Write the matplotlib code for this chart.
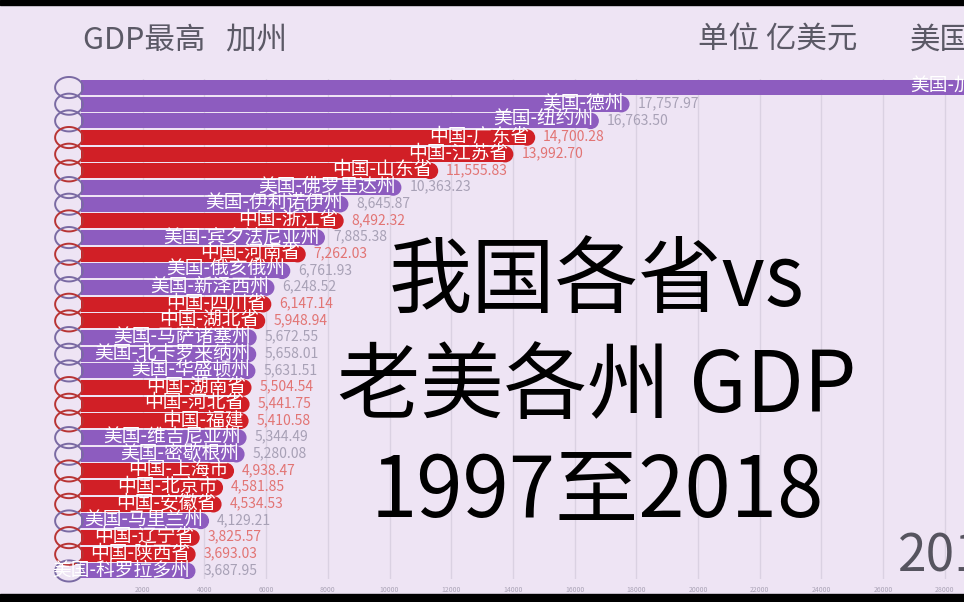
import numpy as np
import matplotlib.pyplot as plt
from matplotlib.patches import Ellipse, Rectangle
from matplotlib.path import Path

plt.rcParams['font.family'] = ['Noto Sans CJK SC', 'DejaVu Sans']

# 1997-2018 动态排行的最后一帧 (单位: 亿美元)
names = ['美国-加州', '美国-德州', '美国-纽约州', '中国-广东省', '中国-江苏省',
         '中国-山东省', '美国-佛罗里达州', '美国-伊利诺伊州', '中国-浙江省',
         '美国-宾夕法尼亚州', '中国-河南省', '美国-俄亥俄州', '美国-新泽西州',
         '中国-四川省', '中国-湖北省', '美国-马萨诸塞州', '美国-北卡罗来纳州',
         '美国-华盛顿州', '中国-湖南省', '中国-河北省', '中国-福建',
         '美国-维吉尼亚州', '美国-密歇根州', '中国-上海市', '中国-北京市',
         '中国-安徽省', '美国-马里兰州', '中国-辽宁省', '中国-陕西省',
         '美国-科罗拉多州']
values = [29687.00, 17757.97, 16763.50, 14700.28, 13992.70,
          11555.83, 10363.23, 8645.87, 8492.32,
          7885.38, 7262.03, 6761.93, 6248.52,
          6147.14, 5948.94, 5672.55, 5658.01,
          5631.51, 5504.54, 5441.75, 5410.58,
          5344.49, 5280.08, 4938.47, 4581.85,
          4534.53, 4129.21, 3825.57, 3693.03,
          3687.95]
ticks = np.arange(2000, 28001, 2000)

bg = '#eee4f4'
us_bar, cn_bar = '#8d5cbf', '#d11f26'
us_ring, cn_ring = '#7a6aa3', '#b83434'
us_val, cn_val = '#a8a1b6', '#e27474'

fig = plt.figure(figsize=(9.64, 6.02), dpi=100, facecolor=bg)
top_px, bot_px = 79.2, 579.3
ax = fig.add_axes([81 / 964, 1 - bot_px / 602, 1 - 81 / 964, (bot_px - top_px) / 602])
ax.set_facecolor(bg)

n = len(values)
px_per_k = 30.85
xmax = (964 - 81) / px_per_k * 1000
ax.set_xlim(0, xmax)
ax.set_ylim(n - 0.5, -0.5)

r = 7.5 / px_per_k * 1000   # 圆角半径 (数据单位)
h = 0.9
for i, (name, v) in enumerate(zip(names, values)):
    us = name.startswith('美国')
    c = us_bar if us else cn_bar
    ax.barh(i, v - r, height=h, color=c, zorder=3)
    ax.add_patch(Ellipse((v - r, i), 2 * r, h, color=c, zorder=3))
    ax.text(v - 150, i - 0.08, name, ha='right', va='center', color='white',
            fontsize=13.5, fontweight='medium', zorder=6)
    ax.text(v + 280, i - 0.05, f'{v:,.2f}', ha='left', va='center',
            color=us_val if us else cn_val, fontsize=10, zorder=6)

# 左侧的圆圈
t = np.linspace(0, 2 * np.pi, 80)
ring = Path(np.column_stack([np.cos(t), 0.76 * np.sin(t)]), closed=True)
rings = [us_ring if s.startswith('美国') else cn_ring for s in names]
ax.scatter(np.full(n, -12 / px_per_k * 1000), np.arange(n), marker=ring, s=20 ** 2,
           facecolors='none', edgecolors=rings, linewidths=1.4, clip_on=False, zorder=4)

ax.set_xticks(ticks)
ax.set_xticklabels([str(x) for x in ticks])
ax.set_yticks([])
ax.tick_params(axis='x', length=0, labelsize=5, labelcolor='#aaa3b6', pad=5)
ax.grid(axis='x', color='#dad1e2', lw=1, zorder=0)
ax.set_axisbelow(True)
for s in ax.spines.values():
    s.set_visible(False)

head = '#5b5966'
fig.text(83 / 964, 1 - 40 / 602, 'GDP最高   加州', fontsize=22, color=head, va='center')
fig.text(698 / 964, 1 - 40 / 602, '单位 亿美元', fontsize=22, color=head, va='center')
fig.text(910 / 964, 1 - 40 / 602, '美国各州', fontsize=22, color=head, va='center')

fig.text(597 / 964, 1 - 282 / 602, '我国各省vs', fontsize=60, ha='center', va='center', color='black', zorder=8)
fig.text(597 / 964, 1 - 388 / 602, '老美各州 GDP', fontsize=60, ha='center', va='center', color='black', zorder=8)
fig.text(597 / 964, 1 - 493 / 602, '1997至2018', fontsize=60, ha='center', va='center', color='black', zorder=8)

fig.text(898 / 964, 1 - 557 / 602, '2018', fontsize=37, color='#56545f', va='center')

# 视频截图上下的黑边
fig.add_artist(Rectangle((0, 1 - 5 / 602), 1, 5 / 602, transform=fig.transFigure, color='black', zorder=10))
fig.add_artist(Rectangle((0, 0), 1, 8 / 602, transform=fig.transFigure, color='black', zorder=10))

fig.savefig('out.png', dpi=100, facecolor=bg)
